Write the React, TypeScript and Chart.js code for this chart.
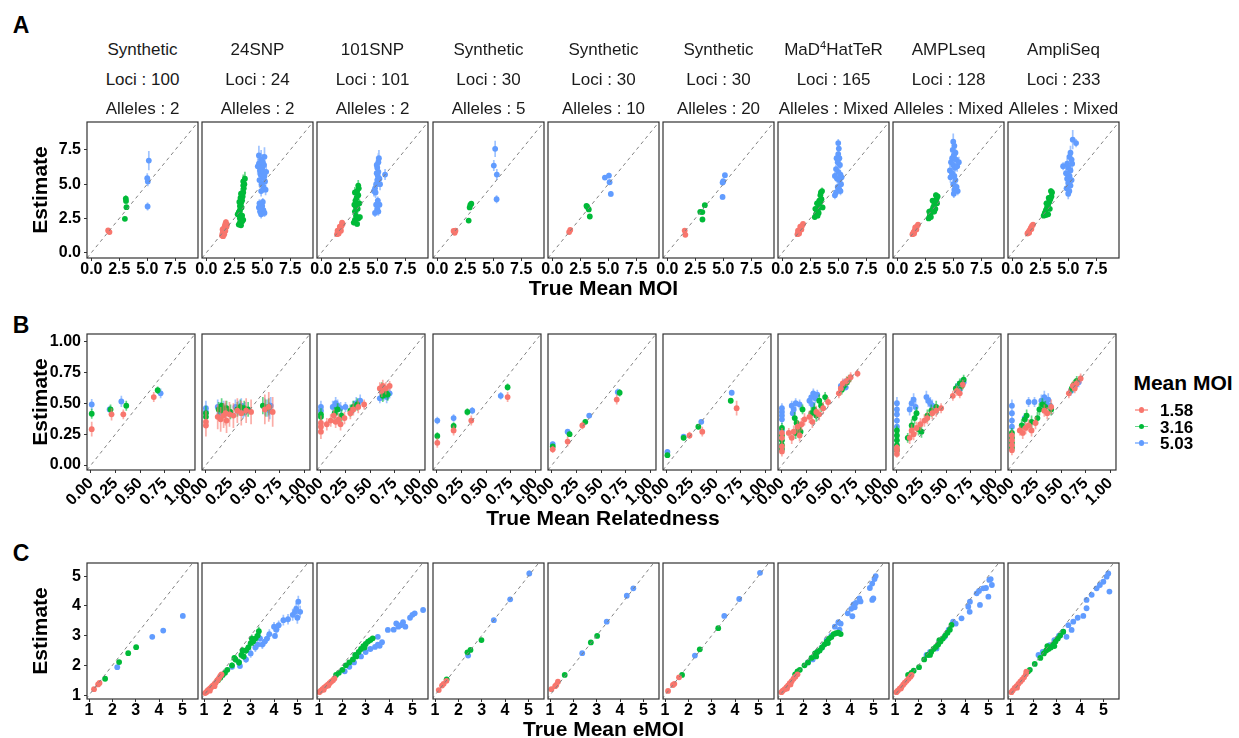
import React, { useEffect, useRef } from "react";
import { Chart, registerables } from "chart.js";
Chart.register(...registerables);

type P = [number, number, number, number]; // x, y, y half-error, x half-error

const FONT = "'Liberation Sans', Arial, Helvetica, sans-serif";
const COLORS = ["#F8766D", "#00BA38", "#619CFF"];
const ERR_COLORS = ["rgba(248,118,109,0.6)", "rgba(0,186,56,0.6)", "rgba(97,156,255,0.6)"];
const GROUP_LABELS = ["1.58", "3.16", "5.03"];

const panelNames = ["Synthetic", "24SNP", "101SNP", "Synthetic", "Synthetic", "Synthetic", "MaD^4^HatTeR", "AMPLseq", "AmpliSeq"];
const panelLoci = ["100", "24", "101", "30", "30", "30", "165", "128", "233"];
const panelAlleles = ["2", "2", "2", "5", "10", "20", "Mixed", "Mixed", "Mixed"];

const moiRange = [-0.39, 9.54];
const moiTicks = [0, 2.5, 5, 7.5];
const moiTickLabels = ["0.0", "2.5", "5.0", "7.5"];
const relRange = [-0.04, 1.06];
const relTicks = [0, 0.25, 0.5, 0.75, 1];
const relTickLabels = ["0.00", "0.25", "0.50", "0.75", "1.00"];
const emoiXRange = [0.914, 5.67];
const emoiYRange = [0.87, 5.44];
const emoiTicks = [1, 2, 3, 4, 5];
const emoiTickLabels = ["1", "2", "3", "4", "5"];

// ---------- Row A: True Mean MOI ----------
const moi1: P[][] = [
  [[1.5, 1.62, 0.12, 0.08], [1.62, 1.5, 0.1, 0.08]],
  [[3.08, 3.95, 0.25, 0.08], [3.1, 3.78, 0.2, 0.08], [3.14, 3.32, 0.15, 0.08], [3.0, 2.47, 0.12, 0.08]],
  [[5.14, 6.72, 0.7, 0.12], [5.0, 5.44, 0.35, 0.12], [5.05, 5.2, 0.35, 0.12], [5.03, 3.37, 0.3, 0.15]],
];
const moi2: P[][] = [
  [[1.4, 1.25, 0.15, 0.05], [1.45, 1.42, 0.15, 0.05], [1.5, 1.55, 0.18, 0.05], [1.55, 1.7, 0.18, 0.05], [1.6, 1.82, 0.2, 0.05], [1.65, 1.95, 0.2, 0.05], [1.7, 2.1, 0.22, 0.05], [1.75, 2.22, 0.22, 0.05], [1.8, 1.9, 0.2, 0.05], [1.5, 1.2, 0.15, 0.05], [1.6, 1.35, 0.15, 0.05], [1.7, 1.6, 0.18, 0.05], [1.85, 2.05, 0.2, 0.05], [1.55, 1.48, 0.15, 0.05], [1.45, 1.7, 0.18, 0.05]],
  [[2.9, 2.05, 0.2, 0.08], [3.0, 2.2, 0.25, 0.08], [3.1, 2.0, 0.2, 0.08], [3.2, 2.3, 0.25, 0.08], [3.0, 2.5, 0.25, 0.08], [3.3, 2.4, 0.25, 0.08], [2.8, 2.8, 0.3, 0.08], [2.9, 2.95, 0.3, 0.08], [3.0, 3.1, 0.3, 0.08], [3.0, 3.4, 0.35, 0.08], [3.1, 3.6, 0.35, 0.08], [3.15, 3.3, 0.3, 0.08], [3.2, 3.8, 0.35, 0.08], [3.05, 4.0, 0.35, 0.08], [3.25, 4.1, 0.4, 0.08], [3.3, 4.4, 0.4, 0.08], [3.35, 4.7, 0.45, 0.08], [3.3, 4.9, 0.45, 0.08], [3.4, 5.0, 0.5, 0.08], [3.3, 5.2, 0.5, 0.08], [3.45, 5.4, 0.5, 0.08], [3.1, 4.3, 0.4, 0.08], [2.95, 3.7, 0.35, 0.08], [3.2, 2.7, 0.3, 0.08]],
  [[4.7, 6.5, 0.6, 0.1], [4.8, 6.0, 0.6, 0.1], [4.85, 5.7, 0.5, 0.1], [4.9, 6.8, 0.7, 0.1], [5.0, 6.2, 0.6, 0.1], [5.05, 5.5, 0.5, 0.1], [5.1, 5.9, 0.6, 0.1], [5.15, 6.4, 0.6, 0.1], [5.2, 7.0, 0.7, 0.1], [5.25, 5.2, 0.5, 0.1], [5.3, 4.6, 0.4, 0.1], [5.1, 4.8, 0.4, 0.1], [4.95, 5.0, 0.5, 0.1], [4.75, 5.3, 0.5, 0.1], [4.6, 6.3, 0.6, 0.1], [5.2, 5.6, 0.5, 0.1], [5.05, 6.6, 0.6, 0.1], [4.9, 4.5, 0.4, 0.1], [5.35, 5.9, 0.6, 0.1], [4.7, 7.1, 0.7, 0.1], [4.7, 3.3, 0.3, 0.1], [4.8, 3.0, 0.3, 0.1], [4.9, 2.8, 0.3, 0.1], [5.0, 3.4, 0.3, 0.1], [5.1, 3.1, 0.3, 0.1], [5.2, 2.9, 0.3, 0.1], [4.75, 3.6, 0.3, 0.1], [5.05, 3.7, 0.3, 0.1], [4.85, 3.2, 0.3, 0.1]],
];
const moi3: P[][] = [
  [[1.4, 1.35, 0.12, 0.05], [1.5, 1.5, 0.12, 0.05], [1.6, 1.65, 0.14, 0.05], [1.7, 1.8, 0.15, 0.05], [1.8, 1.95, 0.15, 0.05], [1.9, 2.1, 0.15, 0.05], [1.55, 1.4, 0.12, 0.05], [1.75, 1.6, 0.14, 0.05], [1.65, 1.9, 0.15, 0.05], [1.85, 2.2, 0.15, 0.05], [1.45, 1.6, 0.12, 0.05]],
  [[2.9, 2.2, 0.2, 0.08], [3.0, 2.4, 0.2, 0.08], [3.2, 2.1, 0.2, 0.08], [3.3, 2.5, 0.2, 0.08], [3.45, 2.6, 0.2, 0.08], [3.1, 2.7, 0.25, 0.08], [3.0, 3.0, 0.3, 0.08], [3.1, 3.3, 0.3, 0.08], [3.2, 3.5, 0.3, 0.08], [3.05, 3.8, 0.35, 0.08], [3.25, 3.2, 0.3, 0.08], [3.15, 4.0, 0.35, 0.08], [3.3, 4.2, 0.35, 0.08], [3.2, 4.5, 0.4, 0.08], [3.35, 4.7, 0.4, 0.08], [3.3, 4.9, 0.4, 0.08], [3.0, 4.4, 0.4, 0.08], [3.4, 3.6, 0.3, 0.08], [2.95, 3.5, 0.3, 0.08]],
  [[4.7, 4.5, 0.4, 0.1], [4.8, 4.7, 0.4, 0.1], [4.9, 5.0, 0.45, 0.1], [5.0, 5.3, 0.5, 0.1], [5.05, 5.6, 0.5, 0.1], [5.1, 5.9, 0.55, 0.1], [5.0, 6.2, 0.6, 0.1], [5.1, 6.6, 0.65, 0.1], [5.15, 6.9, 0.6, 0.1], [4.95, 5.8, 0.5, 0.1], [5.2, 5.4, 0.5, 0.1], [4.85, 4.4, 0.4, 0.1], [5.25, 5.0, 0.45, 0.1], [5.7, 5.7, 0.4, 0.1], [4.9, 3.5, 0.3, 0.1], [5.0, 3.2, 0.3, 0.1], [5.1, 3.0, 0.3, 0.1], [4.8, 2.9, 0.3, 0.1], [5.2, 3.5, 0.3, 0.1], [5.05, 3.8, 0.3, 0.1], [4.95, 6.4, 0.6, 0.1]],
];
const moi4: P[][] = [
  [[1.45, 1.58, 0.1, 0.06], [1.55, 1.45, 0.1, 0.06], [1.62, 1.6, 0.1, 0.06]],
  [[2.95, 3.49, 0.15, 0.08], [3.04, 3.58, 0.15, 0.08], [2.89, 3.3, 0.12, 0.08], [2.8, 2.34, 0.1, 0.08]],
  [[5.17, 7.58, 0.6, 0.1], [5.05, 6.36, 0.4, 0.1], [5.32, 5.7, 0.4, 0.1], [5.3, 3.9, 0.3, 0.1]],
];
const moi5: P[][] = [
  [[1.5, 1.5, 0.1, 0.06], [1.6, 1.66, 0.1, 0.06]],
  [[3.05, 3.42, 0.12, 0.08], [3.11, 3.36, 0.12, 0.08], [3.26, 3.16, 0.12, 0.08], [3.35, 2.64, 0.1, 0.08]],
  [[4.7, 5.48, 0.15, 0.1], [5.06, 5.63, 0.2, 0.1], [5.12, 5.14, 0.2, 0.1], [5.23, 4.29, 0.2, 0.1]],
];
const moi6: P[][] = [
  [[1.55, 1.61, 0.1, 0.06], [1.61, 1.3, 0.1, 0.06]],
  [[2.94, 2.98, 0.1, 0.08], [3.13, 2.96, 0.1, 0.08], [3.35, 3.47, 0.1, 0.08], [3.14, 2.42, 0.1, 0.08]],
  [[5.15, 5.66, 0.15, 0.1], [4.94, 5.12, 0.15, 0.1], [5.0, 5.22, 0.15, 0.1], [4.94, 4.07, 0.2, 0.1]],
];
const moi7: P[][] = [
  [[1.35, 1.35, 0.1, 0.05], [1.45, 1.5, 0.1, 0.05], [1.55, 1.65, 0.1, 0.05], [1.65, 1.8, 0.1, 0.05], [1.75, 1.95, 0.1, 0.05], [1.85, 2.1, 0.1, 0.05], [1.5, 1.4, 0.1, 0.05], [1.7, 1.7, 0.1, 0.05], [1.6, 1.9, 0.1, 0.05], [1.4, 1.6, 0.1, 0.05]],
  [[2.9, 2.6, 0.15, 0.08], [3.0, 2.8, 0.15, 0.08], [3.1, 3.0, 0.2, 0.08], [3.2, 3.2, 0.2, 0.08], [3.3, 3.4, 0.2, 0.08], [3.4, 3.7, 0.2, 0.08], [3.5, 3.9, 0.2, 0.08], [3.4, 4.2, 0.25, 0.08], [3.55, 4.5, 0.25, 0.08], [3.1, 3.6, 0.2, 0.08], [3.25, 2.9, 0.15, 0.08], [3.6, 3.3, 0.2, 0.08], [2.95, 3.2, 0.2, 0.08], [3.45, 4.4, 0.25, 0.08], [3.3, 3.8, 0.2, 0.08], [3.15, 2.7, 0.15, 0.08]],
  [[5.0, 8.0, 0.3, 0.1], [5.05, 7.6, 0.3, 0.1], [5.0, 7.2, 0.3, 0.1], [5.1, 6.9, 0.3, 0.1], [4.95, 6.6, 0.3, 0.1], [5.15, 6.4, 0.3, 0.1], [4.8, 6.1, 0.3, 0.1], [5.0, 5.9, 0.3, 0.1], [5.2, 5.7, 0.3, 0.1], [4.7, 5.6, 0.3, 0.1], [4.9, 5.4, 0.3, 0.1], [5.1, 5.3, 0.3, 0.1], [5.25, 5.0, 0.3, 0.1], [4.95, 4.8, 0.3, 0.1], [5.1, 4.6, 0.3, 0.1], [4.8, 4.4, 0.3, 0.1], [4.7, 4.2, 0.3, 0.1], [5.2, 4.5, 0.3, 0.1], [5.3, 5.5, 0.3, 0.1], [4.85, 6.9, 0.3, 0.1]],
];
const moi8: P[][] = [
  [[1.35, 1.35, 0.1, 0.05], [1.45, 1.5, 0.1, 0.05], [1.55, 1.62, 0.1, 0.05], [1.65, 1.78, 0.1, 0.05], [1.75, 1.92, 0.1, 0.05], [1.85, 2.05, 0.1, 0.05], [1.5, 1.4, 0.1, 0.05], [1.7, 1.7, 0.1, 0.05], [1.6, 1.85, 0.1, 0.05]],
  [[2.8, 2.5, 0.15, 0.08], [2.9, 2.7, 0.15, 0.08], [3.0, 2.9, 0.15, 0.08], [3.1, 3.1, 0.2, 0.08], [3.2, 3.3, 0.2, 0.08], [3.3, 3.5, 0.2, 0.08], [3.4, 3.7, 0.2, 0.08], [3.5, 3.9, 0.2, 0.08], [3.6, 4.1, 0.2, 0.08], [3.45, 4.2, 0.2, 0.08], [3.0, 2.6, 0.15, 0.08], [3.3, 3.0, 0.2, 0.08], [3.55, 3.6, 0.2, 0.08], [2.85, 3.0, 0.2, 0.08], [3.15, 3.8, 0.2, 0.08], [3.4, 3.2, 0.2, 0.08]],
  [[5.0, 8.1, 0.6, 0.1], [5.1, 7.8, 0.4, 0.1], [4.95, 7.5, 0.4, 0.1], [5.2, 7.3, 0.4, 0.1], [5.05, 7.1, 0.4, 0.1], [4.9, 6.9, 0.4, 0.1], [5.25, 6.8, 0.4, 0.1], [4.8, 6.6, 0.4, 0.1], [5.0, 6.4, 0.4, 0.1], [5.15, 6.2, 0.4, 0.1], [4.7, 6.0, 0.4, 0.1], [5.35, 6.3, 0.4, 0.1], [4.9, 5.8, 0.4, 0.1], [5.1, 5.6, 0.4, 0.1], [4.75, 5.5, 0.4, 0.1], [5.2, 5.3, 0.3, 0.1], [5.0, 5.0, 0.3, 0.1], [5.3, 4.8, 0.3, 0.1], [5.1, 4.6, 0.3, 0.1], [5.4, 4.5, 0.3, 0.1], [5.05, 4.3, 0.3, 0.1], [5.5, 6.6, 0.4, 0.1]],
];
const moi9: P[][] = [
  [[1.35, 1.4, 0.1, 0.05], [1.45, 1.52, 0.1, 0.05], [1.55, 1.65, 0.1, 0.05], [1.65, 1.8, 0.1, 0.05], [1.75, 1.95, 0.1, 0.05], [1.85, 2.05, 0.1, 0.05], [1.5, 1.45, 0.1, 0.05], [1.7, 1.72, 0.1, 0.05]],
  [[2.8, 2.7, 0.15, 0.08], [2.9, 2.9, 0.15, 0.08], [3.0, 3.1, 0.2, 0.08], [3.1, 3.3, 0.2, 0.08], [3.2, 3.5, 0.2, 0.08], [3.3, 3.7, 0.2, 0.08], [3.4, 3.9, 0.2, 0.08], [3.5, 4.1, 0.2, 0.08], [3.55, 4.4, 0.2, 0.08], [3.2, 2.8, 0.15, 0.08], [3.35, 3.2, 0.2, 0.08], [3.05, 3.6, 0.2, 0.08], [3.45, 4.5, 0.2, 0.08], [3.0, 2.75, 0.15, 0.08], [3.25, 4.0, 0.2, 0.08]],
  [[5.4, 8.25, 0.7, 0.1], [5.7, 8.0, 0.3, 0.15], [5.2, 7.3, 0.5, 0.1], [5.1, 7.0, 0.4, 0.1], [5.3, 6.8, 0.4, 0.1], [4.54, 6.31, 0.3, 0.1], [4.9, 6.5, 0.4, 0.1], [5.0, 6.2, 0.4, 0.1], [5.2, 6.0, 0.4, 0.1], [4.8, 5.8, 0.4, 0.1], [5.1, 5.6, 0.4, 0.1], [4.9, 5.4, 0.4, 0.1], [5.3, 5.3, 0.4, 0.1], [5.0, 5.1, 0.4, 0.1], [5.2, 4.9, 0.4, 0.1], [4.85, 4.7, 0.4, 0.1], [5.1, 4.5, 0.4, 0.1], [5.35, 6.5, 0.4, 0.1], [5.0, 4.3, 0.4, 0.1]],
];

// ---------- Row B: True Mean Relatedness ----------
const rel1: P[][] = [
  [[0.008, 0.29, 0.06, 0.01], [0.21, 0.41, 0.05, 0.015], [0.33, 0.41, 0.04, 0.015], [0.64, 0.55, 0.04, 0.015]],
  [[0.008, 0.415, 0.04, 0.01], [0.2, 0.45, 0.04, 0.015], [0.36, 0.48, 0.04, 0.015], [0.68, 0.605, 0.03, 0.015]],
  [[0.008, 0.49, 0.045, 0.01], [0.19, 0.45, 0.03, 0.015], [0.31, 0.515, 0.045, 0.015], [0.71, 0.58, 0.04, 0.015]],
];
const rel2: P[][] = [
  [[0.0, 0.35, 0.09, 0.01], [0.0, 0.32, 0.09, 0.01], [0.12, 0.39, 0.1, 0.02], [0.15, 0.37, 0.1, 0.02], [0.18, 0.4, 0.1, 0.02], [0.21, 0.36, 0.1, 0.02], [0.24, 0.41, 0.1, 0.02], [0.28, 0.4, 0.1, 0.02], [0.32, 0.44, 0.1, 0.02], [0.36, 0.42, 0.1, 0.02], [0.41, 0.44, 0.1, 0.02], [0.46, 0.43, 0.1, 0.02], [0.6, 0.45, 0.12, 0.02], [0.64, 0.47, 0.12, 0.02], [0.68, 0.43, 0.12, 0.02], [0.2, 0.42, 0.1, 0.02]],
  [[0.0, 0.42, 0.06, 0.01], [0.0, 0.39, 0.06, 0.01], [0.13, 0.45, 0.06, 0.02], [0.17, 0.44, 0.06, 0.02], [0.21, 0.46, 0.06, 0.02], [0.25, 0.43, 0.06, 0.02], [0.32, 0.45, 0.06, 0.02], [0.35, 0.47, 0.06, 0.02], [0.39, 0.46, 0.06, 0.02], [0.43, 0.45, 0.06, 0.02], [0.58, 0.48, 0.07, 0.02], [0.61, 0.46, 0.07, 0.02], [0.64, 0.47, 0.07, 0.02], [0.16, 0.48, 0.06, 0.02]],
  [[0.0, 0.46, 0.06, 0.01], [0.0, 0.43, 0.06, 0.01], [0.12, 0.47, 0.06, 0.02], [0.15, 0.45, 0.06, 0.02], [0.18, 0.46, 0.06, 0.02], [0.2, 0.44, 0.06, 0.02], [0.3, 0.47, 0.06, 0.02], [0.33, 0.46, 0.06, 0.02], [0.36, 0.48, 0.06, 0.02], [0.4, 0.45, 0.06, 0.02], [0.6, 0.47, 0.07, 0.02], [0.63, 0.46, 0.07, 0.02], [0.66, 0.48, 0.07, 0.02], [0.14, 0.42, 0.06, 0.02], [0.38, 0.44, 0.06, 0.02], [0.65, 0.44, 0.07, 0.02]],
];
const rel3: P[][] = [
  [[0.0, 0.31, 0.06, 0.01], [0.0, 0.27, 0.06, 0.01], [0.0, 0.34, 0.06, 0.01], [0.06, 0.33, 0.05, 0.02], [0.1, 0.36, 0.05, 0.02], [0.13, 0.4, 0.05, 0.02], [0.15, 0.35, 0.05, 0.02], [0.18, 0.37, 0.05, 0.02], [0.2, 0.33, 0.05, 0.02], [0.24, 0.38, 0.05, 0.02], [0.3, 0.42, 0.05, 0.02], [0.33, 0.45, 0.05, 0.02], [0.38, 0.47, 0.05, 0.02], [0.44, 0.49, 0.04, 0.02], [0.6, 0.62, 0.05, 0.02], [0.63, 0.64, 0.05, 0.02], [0.66, 0.62, 0.05, 0.02], [0.7, 0.64, 0.04, 0.02], [0.62, 0.6, 0.05, 0.02]],
  [[0.0, 0.41, 0.05, 0.01], [0.0, 0.39, 0.05, 0.01], [0.14, 0.42, 0.05, 0.02], [0.17, 0.45, 0.05, 0.02], [0.21, 0.4, 0.05, 0.02], [0.3, 0.44, 0.05, 0.02], [0.33, 0.47, 0.05, 0.02], [0.37, 0.49, 0.05, 0.02], [0.63, 0.56, 0.05, 0.02], [0.66, 0.59, 0.05, 0.02], [0.68, 0.57, 0.05, 0.02], [0.62, 0.62, 0.05, 0.02]],
  [[0.0, 0.47, 0.05, 0.01], [0.0, 0.44, 0.05, 0.01], [0.12, 0.47, 0.05, 0.02], [0.15, 0.5, 0.05, 0.02], [0.17, 0.48, 0.05, 0.02], [0.2, 0.46, 0.05, 0.02], [0.25, 0.47, 0.04, 0.02], [0.33, 0.47, 0.05, 0.02], [0.36, 0.5, 0.05, 0.02], [0.4, 0.52, 0.05, 0.02], [0.6, 0.54, 0.04, 0.02], [0.64, 0.57, 0.05, 0.02], [0.67, 0.55, 0.05, 0.02], [0.7, 0.58, 0.04, 0.02], [0.62, 0.6, 0.04, 0.02]],
];
const rel4: P[][] = [
  [[0.004, 0.18, 0.04, 0.01], [0.17, 0.28, 0.04, 0.015], [0.35, 0.36, 0.04, 0.015], [0.72, 0.55, 0.04, 0.015]],
  [[0.004, 0.235, 0.03, 0.01], [0.17, 0.316, 0.03, 0.015], [0.31, 0.43, 0.03, 0.015], [0.72, 0.63, 0.03, 0.015]],
  [[0.004, 0.36, 0.03, 0.01], [0.17, 0.38, 0.03, 0.015], [0.36, 0.44, 0.03, 0.015], [0.65, 0.56, 0.03, 0.015]],
];
const rel5: P[][] = [
  [[0.008, 0.127, 0.03, 0.01], [0.16, 0.19, 0.04, 0.015], [0.31, 0.32, 0.03, 0.015], [0.66, 0.53, 0.04, 0.015]],
  [[0.008, 0.15, 0.02, 0.01], [0.18, 0.25, 0.02, 0.015], [0.34, 0.35, 0.02, 0.015], [0.69, 0.585, 0.03, 0.015]],
  [[0.008, 0.17, 0.02, 0.01], [0.16, 0.27, 0.02, 0.015], [0.38, 0.4, 0.02, 0.015], [0.67, 0.59, 0.03, 0.015]],
];
const rel6: P[][] = [
  [[0.23, 0.24, 0.03, 0.015], [0.36, 0.27, 0.04, 0.015], [0.71, 0.46, 0.06, 0.015]],
  [[0.005, 0.08, 0.02, 0.01], [0.17, 0.22, 0.02, 0.015], [0.32, 0.31, 0.02, 0.015], [0.65, 0.52, 0.02, 0.015]],
  [[0.005, 0.106, 0.02, 0.01], [0.17, 0.23, 0.02, 0.015], [0.35, 0.35, 0.02, 0.015], [0.66, 0.585, 0.02, 0.015]],
];
const rel7: P[][] = [
  [[0.0, 0.26, 0.04, 0.01], [0.0, 0.22, 0.04, 0.01], [0.0, 0.15, 0.04, 0.01], [0.0, 0.11, 0.04, 0.01], [0.07, 0.26, 0.04, 0.02], [0.1, 0.22, 0.05, 0.02], [0.12, 0.27, 0.05, 0.02], [0.16, 0.31, 0.05, 0.02], [0.2, 0.33, 0.05, 0.02], [0.23, 0.37, 0.05, 0.02], [0.18, 0.24, 0.05, 0.02], [0.28, 0.39, 0.05, 0.02], [0.31, 0.35, 0.05, 0.02], [0.35, 0.43, 0.05, 0.02], [0.38, 0.41, 0.05, 0.02], [0.47, 0.51, 0.04, 0.02], [0.42, 0.46, 0.05, 0.02], [0.58, 0.58, 0.04, 0.02], [0.62, 0.66, 0.04, 0.02], [0.66, 0.68, 0.04, 0.02], [0.7, 0.71, 0.04, 0.02], [0.77, 0.74, 0.03, 0.02], [0.6, 0.62, 0.04, 0.02]],
  [[0.0, 0.3, 0.04, 0.01], [0.0, 0.24, 0.04, 0.01], [0.0, 0.2, 0.04, 0.01], [0.0, 0.16, 0.04, 0.01], [0.0, 0.13, 0.04, 0.01], [0.13, 0.38, 0.05, 0.02], [0.15, 0.34, 0.05, 0.02], [0.17, 0.3, 0.05, 0.02], [0.19, 0.27, 0.05, 0.02], [0.21, 0.45, 0.04, 0.02], [0.14, 0.26, 0.05, 0.02], [0.3, 0.42, 0.05, 0.02], [0.33, 0.45, 0.05, 0.02], [0.35, 0.4, 0.05, 0.02], [0.38, 0.52, 0.05, 0.02], [0.44, 0.55, 0.04, 0.02], [0.4, 0.48, 0.05, 0.02], [0.63, 0.64, 0.04, 0.02], [0.66, 0.67, 0.04, 0.02], [0.68, 0.69, 0.04, 0.02], [0.61, 0.61, 0.04, 0.02]],
  [[0.0, 0.46, 0.04, 0.01], [0.0, 0.43, 0.04, 0.01], [0.0, 0.4, 0.04, 0.01], [0.0, 0.37, 0.04, 0.01], [0.0, 0.28, 0.04, 0.01], [0.1, 0.48, 0.04, 0.02], [0.12, 0.45, 0.04, 0.02], [0.14, 0.5, 0.04, 0.02], [0.18, 0.49, 0.04, 0.02], [0.11, 0.42, 0.04, 0.02], [0.28, 0.52, 0.04, 0.02], [0.3, 0.55, 0.04, 0.02], [0.32, 0.58, 0.04, 0.02], [0.34, 0.54, 0.04, 0.02], [0.36, 0.57, 0.04, 0.02], [0.31, 0.49, 0.04, 0.02], [0.6, 0.64, 0.03, 0.02], [0.62, 0.65, 0.03, 0.02], [0.65, 0.63, 0.03, 0.02], [0.64, 0.67, 0.03, 0.02]],
];
const rel8: P[][] = [
  [[0.0, 0.09, 0.03, 0.01], [0.0, 0.12, 0.03, 0.01], [0.0, 0.14, 0.03, 0.01], [0.13, 0.22, 0.05, 0.02], [0.15, 0.28, 0.05, 0.02], [0.17, 0.25, 0.05, 0.02], [0.2, 0.3, 0.05, 0.02], [0.24, 0.33, 0.05, 0.02], [0.28, 0.36, 0.05, 0.02], [0.31, 0.38, 0.05, 0.02], [0.36, 0.42, 0.05, 0.02], [0.4, 0.44, 0.05, 0.02], [0.45, 0.46, 0.04, 0.02], [0.57, 0.56, 0.04, 0.02], [0.61, 0.6, 0.04, 0.02], [0.64, 0.58, 0.04, 0.02], [0.67, 0.65, 0.04, 0.02]],
  [[0.0, 0.28, 0.04, 0.01], [0.0, 0.24, 0.04, 0.01], [0.0, 0.2, 0.04, 0.01], [0.0, 0.16, 0.04, 0.01], [0.0, 0.12, 0.04, 0.01], [0.11, 0.22, 0.04, 0.02], [0.15, 0.32, 0.05, 0.02], [0.18, 0.38, 0.05, 0.02], [0.2, 0.42, 0.05, 0.02], [0.22, 0.29, 0.05, 0.02], [0.25, 0.27, 0.05, 0.02], [0.31, 0.4, 0.05, 0.02], [0.35, 0.44, 0.05, 0.02], [0.4, 0.47, 0.05, 0.02], [0.6, 0.62, 0.04, 0.02], [0.64, 0.66, 0.04, 0.02], [0.68, 0.69, 0.04, 0.02], [0.66, 0.64, 0.04, 0.02]],
  [[0.0, 0.5, 0.05, 0.01], [0.0, 0.45, 0.04, 0.01], [0.0, 0.41, 0.04, 0.01], [0.0, 0.36, 0.04, 0.01], [0.0, 0.31, 0.04, 0.01], [0.13, 0.45, 0.05, 0.02], [0.15, 0.5, 0.05, 0.02], [0.17, 0.53, 0.05, 0.02], [0.19, 0.47, 0.05, 0.02], [0.3, 0.55, 0.05, 0.02], [0.32, 0.52, 0.05, 0.02], [0.34, 0.5, 0.05, 0.02], [0.36, 0.48, 0.05, 0.02], [0.62, 0.64, 0.04, 0.02], [0.65, 0.66, 0.04, 0.02], [0.68, 0.67, 0.04, 0.02], [0.64, 0.61, 0.04, 0.02]],
];
const rel9: P[][] = [
  [[0.0, 0.24, 0.04, 0.01], [0.0, 0.2, 0.04, 0.01], [0.0, 0.16, 0.04, 0.01], [0.0, 0.12, 0.04, 0.01], [0.08, 0.28, 0.04, 0.02], [0.11, 0.26, 0.05, 0.02], [0.14, 0.3, 0.05, 0.02], [0.17, 0.32, 0.05, 0.02], [0.2, 0.28, 0.05, 0.02], [0.24, 0.34, 0.05, 0.02], [0.33, 0.44, 0.05, 0.02], [0.36, 0.42, 0.05, 0.02], [0.4, 0.47, 0.06, 0.02], [0.58, 0.58, 0.04, 0.02], [0.62, 0.64, 0.04, 0.02], [0.66, 0.66, 0.04, 0.02], [0.7, 0.7, 0.04, 0.02], [0.64, 0.62, 0.04, 0.02]],
  [[0.0, 0.26, 0.04, 0.01], [0.0, 0.22, 0.04, 0.01], [0.0, 0.18, 0.04, 0.01], [0.0, 0.14, 0.04, 0.01], [0.1, 0.32, 0.05, 0.02], [0.13, 0.37, 0.05, 0.02], [0.15, 0.4, 0.05, 0.02], [0.2, 0.35, 0.05, 0.02], [0.26, 0.38, 0.05, 0.02], [0.28, 0.45, 0.05, 0.02], [0.31, 0.49, 0.05, 0.02], [0.34, 0.47, 0.05, 0.02], [0.4, 0.45, 0.05, 0.02], [0.63, 0.65, 0.04, 0.02], [0.66, 0.68, 0.04, 0.02], [0.61, 0.62, 0.04, 0.02]],
  [[0.0, 0.48, 0.05, 0.01], [0.0, 0.42, 0.04, 0.01], [0.0, 0.36, 0.04, 0.01], [0.0, 0.31, 0.04, 0.01], [0.17, 0.51, 0.04, 0.02], [0.23, 0.51, 0.04, 0.02], [0.13, 0.38, 0.04, 0.02], [0.3, 0.52, 0.05, 0.02], [0.33, 0.55, 0.05, 0.02], [0.35, 0.5, 0.05, 0.02], [0.37, 0.53, 0.05, 0.02], [0.39, 0.48, 0.05, 0.02], [0.62, 0.62, 0.04, 0.02], [0.65, 0.65, 0.04, 0.02], [0.68, 0.67, 0.04, 0.02], [0.6, 0.6, 0.04, 0.02]],
];

// ---------- Row C: True Mean eMOI ----------
const emoi1: P[][] = [
  [[1.215, 1.2, 0.03, 0], [1.39, 1.36, 0.03, 0], [1.45, 1.41, 0.03, 0]],
  [[1.69, 1.55, 0.03, 0], [2.29, 2.11, 0.04, 0], [2.68, 2.41, 0.04, 0], [3.02, 2.61, 0.04, 0]],
  [[2.21, 1.94, 0.04, 0], [3.71, 2.96, 0.05, 0], [4.18, 3.17, 0.06, 0], [5.02, 3.66, 0.08, 0]],
];
const emoi2: P[][] = [
  [[1.05, 1.07, 0.05, 0], [1.1, 1.1, 0.05, 0], [1.15, 1.15, 0.05, 0], [1.2, 1.18, 0.05, 0], [1.25, 1.22, 0.05, 0], [1.3, 1.25, 0.05, 0], [1.35, 1.3, 0.05, 0], [1.4, 1.33, 0.05, 0], [1.45, 1.38, 0.05, 0], [1.5, 1.42, 0.05, 0], [1.55, 1.48, 0.05, 0], [1.6, 1.52, 0.05, 0], [1.65, 1.58, 0.06, 0], [1.7, 1.65, 0.06, 0], [1.75, 1.7, 0.06, 0], [1.25, 1.15, 0.05, 0], [1.45, 1.3, 0.05, 0]],
  [[1.6, 1.5, 0.05, 0], [1.7, 1.58, 0.05, 0], [1.8, 1.68, 0.06, 0], [2.0, 1.85, 0.08, 0], [2.2, 2.0, 0.1, 0], [2.35, 2.2, 0.12, 0], [2.5, 2.1, 0.12, 0], [2.6, 2.35, 0.12, 0], [2.7, 2.3, 0.12, 0], [2.8, 2.5, 0.12, 0], [2.9, 2.6, 0.14, 0], [3.0, 2.75, 0.14, 0], [3.1, 2.8, 0.15, 0], [3.2, 2.9, 0.15, 0], [3.3, 3.0, 0.15, 0], [3.35, 3.15, 0.15, 0], [2.3, 2.25, 0.1, 0], [2.65, 2.5, 0.12, 0], [3.05, 2.9, 0.14, 0], [1.9, 1.75, 0.06, 0]],
  [[2.2, 1.95, 0.08, 0], [2.54, 1.98, 0.1, 0], [2.5, 2.1, 0.1, 0], [2.8, 2.2, 0.12, 0], [3.0, 2.4, 0.14, 0], [3.2, 2.6, 0.15, 0], [3.4, 2.91, 0.15, 0], [3.5, 2.7, 0.15, 0], [3.6, 2.8, 0.15, 0], [3.8, 3.05, 0.16, 0], [4.04, 2.99, 0.1, 0], [4.0, 3.3, 0.16, 0], [4.1, 3.2, 0.16, 0], [4.2, 3.35, 0.16, 0], [4.4, 3.52, 0.18, 0], [4.6, 3.55, 0.18, 0], [4.8, 3.7, 0.2, 0], [4.9, 3.8, 0.2, 0], [5.0, 3.6, 0.2, 0], [5.04, 4.14, 0.2, 0], [5.12, 3.8, 0.2, 0], [4.95, 3.9, 0.2, 0], [3.7, 2.9, 0.15, 0], [3.3, 2.7, 0.15, 0]],
];
const emoi3: P[][] = [
  [[1.01, 1.1, 0.02, 0], [1.08, 1.15, 0.02, 0], [1.15, 1.2, 0.02, 0], [1.22, 1.25, 0.02, 0], [1.3, 1.3, 0.02, 0], [1.38, 1.35, 0.02, 0], [1.45, 1.4, 0.02, 0], [1.52, 1.45, 0.02, 0], [1.6, 1.5, 0.02, 0], [1.66, 1.56, 0.02, 0], [1.2, 1.18, 0.02, 0], [1.4, 1.32, 0.02, 0]],
  [[1.73, 1.68, 0.03, 0], [1.85, 1.75, 0.03, 0], [2.0, 1.85, 0.03, 0], [2.15, 2.0, 0.03, 0], [2.3, 2.1, 0.03, 0], [2.45, 2.2, 0.04, 0], [2.6, 2.3, 0.04, 0], [2.7, 2.45, 0.04, 0], [2.8, 2.55, 0.04, 0], [2.9, 2.65, 0.04, 0], [3.0, 2.72, 0.04, 0], [3.1, 2.8, 0.04, 0], [3.2, 2.85, 0.04, 0], [3.3, 2.91, 0.04, 0], [2.55, 2.35, 0.04, 0], [2.95, 2.6, 0.04, 0]],
  [[2.1, 1.8, 0.03, 0], [2.3, 1.95, 0.03, 0], [2.5, 2.1, 0.04, 0], [2.8, 2.3, 0.04, 0], [3.0, 2.45, 0.05, 0], [3.2, 2.55, 0.05, 0], [3.4, 2.62, 0.05, 0], [3.52, 2.7, 0.05, 0], [3.6, 2.66, 0.05, 0], [3.7, 2.78, 0.05, 0], [3.52, 2.96, 0.05, 0], [3.95, 3.19, 0.06, 0], [4.2, 3.2, 0.06, 0], [4.31, 3.41, 0.06, 0], [4.4, 3.3, 0.06, 0], [4.5, 3.35, 0.06, 0], [4.6, 3.45, 0.06, 0], [4.7, 3.3, 0.06, 0], [4.9, 3.6, 0.06, 0], [5.0, 3.7, 0.06, 0], [5.1, 3.75, 0.06, 0], [5.46, 3.86, 0.06, 0]],
];
const emoi4: P[][] = [
  [[1.16, 1.17, 0.02, 0], [1.3, 1.32, 0.02, 0], [1.37, 1.38, 0.02, 0], [1.49, 1.48, 0.02, 0]],
  [[1.5, 1.53, 0.02, 0], [2.39, 2.44, 0.03, 0], [2.52, 2.52, 0.03, 0], [2.99, 2.85, 0.03, 0]],
  [[2.42, 2.33, 0.03, 0], [3.52, 3.52, 0.05, 0], [4.22, 4.22, 0.07, 0], [5.04, 5.09, 0.1, 0]],
];
const emoi5: P[][] = [
  [[1.06, 1.2, 0.02, 0], [1.22, 1.3, 0.02, 0], [1.27, 1.34, 0.02, 0], [1.34, 1.45, 0.02, 0]],
  [[1.63, 1.68, 0.02, 0], [2.75, 2.77, 0.03, 0], [3.02, 2.99, 0.03, 0]],
  [[2.38, 2.41, 0.03, 0], [3.43, 3.47, 0.04, 0], [4.29, 4.34, 0.05, 0], [4.57, 4.59, 0.05, 0]],
];
const emoi6: P[][] = [
  [[1.13, 1.14, 0.02, 0], [1.34, 1.34, 0.02, 0], [1.4, 1.38, 0.02, 0], [1.6, 1.6, 0.02, 0]],
  [[1.73, 1.68, 0.02, 0], [2.49, 2.54, 0.03, 0], [3.28, 3.25, 0.03, 0]],
  [[2.28, 2.33, 0.03, 0], [3.54, 3.66, 0.04, 0], [4.18, 4.23, 0.05, 0], [5.07, 5.11, 0.06, 0]],
];
const emoi7: P[][] = [
  [[1.06, 1.1, 0.02, 0], [1.12, 1.15, 0.02, 0], [1.2, 1.2, 0.02, 0], [1.28, 1.27, 0.02, 0], [1.35, 1.33, 0.02, 0], [1.42, 1.4, 0.02, 0], [1.5, 1.47, 0.02, 0], [1.58, 1.55, 0.02, 0], [1.66, 1.62, 0.02, 0], [1.75, 1.7, 0.02, 0], [1.3, 1.22, 0.02, 0], [1.45, 1.36, 0.02, 0]],
  [[1.65, 1.7, 0.03, 0], [1.75, 1.8, 0.03, 0], [1.85, 1.85, 0.03, 0], [2.05, 2.0, 0.03, 0], [2.2, 2.1, 0.03, 0], [2.35, 2.25, 0.03, 0], [2.5, 2.4, 0.03, 0], [2.6, 2.45, 0.03, 0], [2.7, 2.5, 0.03, 0], [2.8, 2.6, 0.03, 0], [2.9, 2.7, 0.03, 0], [3.0, 2.8, 0.03, 0], [3.1, 2.9, 0.03, 0], [3.2, 2.95, 0.03, 0], [3.3, 3.05, 0.03, 0], [3.4, 3.08, 0.03, 0], [3.5, 3.1, 0.03, 0], [3.6, 3.05, 0.03, 0], [2.55, 2.3, 0.03, 0], [3.05, 2.75, 0.03, 0]],
  [[2.2, 2.1, 0.03, 0], [2.4, 2.2, 0.03, 0], [2.6, 2.45, 0.03, 0], [2.8, 2.6, 0.03, 0], [3.0, 2.85, 0.03, 0], [3.2, 3.0, 0.04, 0], [3.35, 3.3, 0.04, 0], [3.5, 3.45, 0.04, 0], [3.6, 3.4, 0.04, 0], [3.55, 3.2, 0.04, 0], [3.9, 3.75, 0.05, 0], [4.05, 3.9, 0.05, 0], [4.15, 4.05, 0.05, 0], [4.1, 3.65, 0.05, 0], [4.25, 4.1, 0.05, 0], [4.4, 4.25, 0.05, 0], [4.45, 4.15, 0.05, 0], [4.85, 4.6, 0.06, 0], [4.95, 4.75, 0.06, 0], [5.05, 4.9, 0.06, 0], [5.1, 5.0, 0.06, 0], [4.95, 4.2, 0.06, 0], [5.0, 4.25, 0.06, 0], [4.2, 3.95, 0.05, 0]],
];
const emoi8: P[][] = [
  [[1.06, 1.1, 0.02, 0], [1.12, 1.15, 0.02, 0], [1.2, 1.22, 0.02, 0], [1.28, 1.28, 0.02, 0], [1.35, 1.35, 0.02, 0], [1.42, 1.42, 0.02, 0], [1.5, 1.48, 0.02, 0], [1.58, 1.55, 0.02, 0], [1.66, 1.62, 0.02, 0], [1.71, 1.68, 0.02, 0], [1.25, 1.22, 0.02, 0]],
  [[1.56, 1.68, 0.03, 0], [1.7, 1.75, 0.03, 0], [1.8, 1.82, 0.03, 0], [2.03, 1.94, 0.03, 0], [2.25, 2.2, 0.03, 0], [2.4, 2.35, 0.03, 0], [2.55, 2.45, 0.03, 0], [2.65, 2.55, 0.03, 0], [2.75, 2.62, 0.03, 0], [2.85, 2.7, 0.03, 0], [2.95, 2.8, 0.03, 0], [3.05, 2.9, 0.03, 0], [3.15, 3.0, 0.03, 0], [3.25, 3.1, 0.03, 0], [3.35, 3.2, 0.03, 0], [3.42, 3.36, 0.03, 0], [2.5, 2.35, 0.03, 0], [2.9, 2.85, 0.03, 0]],
  [[2.35, 2.35, 0.03, 0], [2.5, 2.45, 0.03, 0], [2.78, 2.57, 0.03, 0], [2.9, 2.8, 0.03, 0], [3.13, 2.96, 0.03, 0], [3.3, 3.2, 0.03, 0], [3.49, 3.47, 0.04, 0], [3.6, 3.4, 0.04, 0], [3.85, 3.58, 0.04, 0], [4.14, 3.97, 0.05, 0], [4.21, 4.14, 0.05, 0], [4.2, 3.8, 0.05, 0], [4.5, 4.42, 0.05, 0], [4.64, 4.03, 0.05, 0], [4.6, 4.5, 0.05, 0], [4.78, 4.59, 0.05, 0], [4.9, 4.6, 0.05, 0], [5.0, 4.31, 0.05, 0], [5.04, 4.87, 0.06, 0], [5.15, 4.7, 0.06, 0], [5.1, 4.9, 0.06, 0]],
];
const emoi9: P[][] = [
  [[1.06, 1.1, 0.02, 0], [1.12, 1.16, 0.02, 0], [1.2, 1.24, 0.02, 0], [1.28, 1.3, 0.02, 0], [1.36, 1.38, 0.02, 0], [1.44, 1.45, 0.02, 0], [1.52, 1.52, 0.02, 0], [1.6, 1.6, 0.02, 0], [1.68, 1.7, 0.02, 0], [1.7, 1.79, 0.02, 0], [1.3, 1.25, 0.02, 0]],
  [[1.77, 1.79, 0.03, 0], [1.85, 1.85, 0.03, 0], [2.06, 2.05, 0.03, 0], [2.3, 2.25, 0.03, 0], [2.45, 2.4, 0.03, 0], [2.55, 2.5, 0.03, 0], [2.65, 2.55, 0.03, 0], [2.75, 2.6, 0.03, 0], [2.85, 2.7, 0.03, 0], [2.95, 2.8, 0.03, 0], [3.05, 2.9, 0.03, 0], [3.15, 3.0, 0.03, 0], [3.28, 3.13, 0.03, 0], [2.6, 2.65, 0.03, 0], [2.9, 2.65, 0.03, 0]],
  [[2.22, 2.35, 0.03, 0], [2.4, 2.45, 0.03, 0], [2.7, 2.68, 0.03, 0], [2.9, 2.85, 0.03, 0], [3.1, 3.0, 0.03, 0], [3.28, 3.13, 0.03, 0], [3.42, 2.96, 0.03, 0], [3.5, 3.35, 0.04, 0], [3.64, 3.19, 0.04, 0], [3.71, 3.47, 0.04, 0], [3.9, 3.6, 0.04, 0], [4.14, 3.66, 0.05, 0], [4.28, 3.92, 0.05, 0], [4.28, 4.2, 0.05, 0], [4.5, 4.37, 0.05, 0], [4.71, 4.59, 0.05, 0], [4.85, 4.7, 0.05, 0], [5.0, 4.81, 0.05, 0], [5.14, 4.98, 0.05, 0], [5.21, 5.09, 0.05, 0], [5.26, 4.48, 0.06, 0]],
];

// ---------- layout ----------
const PANEL_LEFTS = [87, 202, 317, 433, 548, 663, 778, 893, 1008];
const PANEL_W = 111;
const PANEL_H = 136;

type RowDef = {
  panels: P[][][];
  xRange: number[];
  yRange: number[];
  ticks: number[];
  tickLabels: string[];
  top: number;
  xAxisH: number;
  rot: number;
  tickPad: number;
  xErr: boolean;
};

const ROWS: RowDef[] = [
  { panels: [moi1, moi2, moi3, moi4, moi5, moi6, moi7, moi8, moi9], xRange: moiRange, yRange: moiRange, ticks: moiTicks, tickLabels: moiTickLabels, top: 122, xAxisH: 26, rot: 0, tickPad: -1, xErr: true },
  { panels: [rel1, rel2, rel3, rel4, rel5, rel6, rel7, rel8, rel9], xRange: relRange, yRange: relRange, ticks: relTicks, tickLabels: relTickLabels, top: 334, xAxisH: 42, rot: 45, tickPad: 1, xErr: true },
  { panels: [emoi1, emoi2, emoi3, emoi4, emoi5, emoi6, emoi7, emoi8, emoi9], xRange: emoiXRange, yRange: emoiYRange, ticks: emoiTicks, tickLabels: emoiTickLabels, top: 563, xAxisH: 24, rot: 0, tickPad: -1, xErr: false },
];

const borderPlugin = {
  id: "panelBorder",
  afterDraw(chart: any) {
    const { ctx, chartArea } = chart;
    const { left, top, right, bottom } = chartArea;
    ctx.save();
    ctx.strokeStyle = "#333333";
    ctx.lineWidth = 1.2;
    ctx.strokeRect(left, top, right - left, bottom - top);
    ctx.restore();
  },
};

function Panel({ row, col }: { row: RowDef; col: number }) {
  const ref = useRef<HTMLCanvasElement | null>(null);
  const first = col === 0;
  const yW = first ? 50 : 0;
  const padL = first ? 4 : 34;
  const padR = 6;
  const padT = 16;
  const width = padL + yW + PANEL_W + padR;
  const height = padT + PANEL_H + row.xAxisH;
  const left = PANEL_LEFTS[col] - padL - yW;
  const top = row.top - padT;

  useEffect(() => {
    if (!ref.current) return;
    const groups = row.panels[col];
    const lo = Math.min(row.xRange[0], row.yRange[0]);
    const hi = Math.max(row.xRange[1], row.yRange[1]);
    const datasets: any[] = [
      {
        type: "line",
        data: [{ x: lo, y: lo }, { x: hi, y: hi }],
        borderColor: "#808080",
        borderWidth: 1,
        borderDash: [3.5, 3.5],
        pointRadius: 0,
        fill: false,
        tension: 0,
        order: 0,
      },
    ];
    groups.forEach((pts, g) => {
      datasets.push({
        type: "scatter",
        data: pts.map((p) => ({ x: p[0], y: p[1] })),
        backgroundColor: COLORS[g],
        pointBackgroundColor: COLORS[g],
        pointBorderWidth: 0,
        borderWidth: 0,
        pointRadius: 2.9,
        order: 1 + g * 2,
      });
      const seg: any[] = [];
      pts.forEach((p) => {
        seg.push({ x: p[0], y: p[1] - p[2] }, { x: p[0], y: p[1] + p[2] }, { x: p[0], y: null });
        if (row.xErr && p[3] > 0) {
          seg.push({ x: p[0] - p[3], y: p[1] }, { x: p[0] + p[3], y: p[1] }, { x: p[0] + p[3], y: null });
        }
      });
      datasets.push({
        type: "line",
        data: seg,
        borderColor: ERR_COLORS[g],
        borderWidth: 1.7,
        pointRadius: 0,
        spanGaps: false,
        fill: false,
        tension: 0,
        order: 2 + g * 2,
      });
    });

    const tickFont = { family: FONT, size: 16, weight: "bold" as const };
    const chart = new Chart(ref.current, {
      type: "scatter",
      data: { datasets },
      plugins: [borderPlugin],
      options: {
        responsive: false,
        animation: false,
        events: [],
        layout: { padding: { left: padL, right: padR, top: padT, bottom: 0 } },
        plugins: { legend: { display: false }, tooltip: { enabled: false } },
        scales: {
          x: {
            type: "linear",
            min: row.xRange[0],
            max: row.xRange[1],
            afterFit: (s: any) => {
              s.height = row.xAxisH;
            },
            afterBuildTicks: (s: any) => {
              s.ticks = row.ticks.map((v) => ({ value: v }));
            },
            ticks: {
              autoSkip: false,
              maxRotation: row.rot,
              minRotation: row.rot,
              padding: row.tickPad,
              color: "#000",
              font: tickFont,
              callback: (v: any) => {
                const i = row.ticks.indexOf(Number(v));
                return i >= 0 ? row.tickLabels[i] : "";
              },
            },
            grid: { display: true, drawOnChartArea: false, drawTicks: true, tickLength: 3, color: "#333", lineWidth: 1 },
            border: { display: false },
          },
          y: {
            type: "linear",
            display: first,
            min: row.yRange[0],
            max: row.yRange[1],
            afterFit: (s: any) => {
              s.width = yW;
            },
            afterBuildTicks: (s: any) => {
              s.ticks = row.ticks.map((v) => ({ value: v }));
            },
            ticks: {
              autoSkip: false,
              padding: 3,
              color: "#000",
              font: tickFont,
              callback: (v: any) => {
                const i = row.ticks.indexOf(Number(v));
                return i >= 0 ? row.tickLabels[i] : "";
              },
            },
            grid: { display: true, drawOnChartArea: false, drawTicks: true, tickLength: 3, color: "#333", lineWidth: 1 },
            border: { display: false },
          },
        },
      } as any,
    });
    return () => chart.destroy();
  }, []);

  return (
    <canvas
      ref={ref}
      width={width}
      height={height}
      style={{ position: "absolute", left, top, width, height }}
    />
  );
}

function T({ x, y, size, bold, rot, color, children }: any) {
  return (
    <div
      style={{
        position: "absolute",
        left: x,
        top: y,
        transform: `translate(-50%, -50%)${rot ? " rotate(-90deg)" : ""}`,
        fontFamily: FONT,
        fontSize: size,
        fontWeight: bold ? 700 : 400,
        lineHeight: 1,
        whiteSpace: "pre",
        color: color || "#000",
      }}
    >
      {children}
    </div>
  );
}

function renderName(name: string) {
  const parts = name.split("^");
  if (parts.length < 3) return name;
  return (
    <>
      {parts[0]}
      <span style={{ fontSize: "0.65em", position: "relative", top: "-0.5em" }}>{parts[1]}</span>
      {parts[2]}
    </>
  );
}

export default function App() {
  const stripCol = "#1a1a1a";
  return (
    <div style={{ position: "absolute", left: 0, top: 0, width: 1239, height: 738, background: "#fff", overflow: "hidden" }}>
      {ROWS.map((row, r) => PANEL_LEFTS.map((_, c) => <Panel key={`${r}-${c}`} row={row} col={c} />))}

      {PANEL_LEFTS.map((l, c) => (
        <React.Fragment key={`s${c}`}>
          <T x={l + PANEL_W / 2} y={48.5} size={17} color={stripCol}>{renderName(panelNames[c])}</T>
          <T x={l + PANEL_W / 2} y={79} size={17} color={stripCol}>{`Loci : ${panelLoci[c]}`}</T>
          <T x={l + PANEL_W / 2} y={108} size={17} color={stripCol}>{`Alleles : ${panelAlleles[c]}`}</T>
        </React.Fragment>
      ))}

      <T x={21} y={25} size={23} bold>A</T>
      <T x={21} y={325} size={23} bold>B</T>
      <T x={21} y={552.5} size={23} bold>C</T>

      <T x={38.5} y={190} size={21} bold rot>Estimate</T>
      <T x={38.5} y={402} size={21} bold rot>Estimate</T>
      <T x={38.5} y={631} size={21} bold rot>Estimate</T>

      <T x={603.5} y={287} size={21} bold>True Mean MOI</T>
      <T x={603} y={517} size={21} bold>True Mean Relatedness</T>
      <T x={603.5} y={727.5} size={21} bold>True Mean eMOI</T>

      <T x={1183} y={381.5} size={21} bold>Mean MOI</T>
      {GROUP_LABELS.map((lab, g) => {
        const cy = 410 + g * 16.6;
        return (
          <React.Fragment key={`lg${g}`}>
            <div style={{ position: "absolute", left: 1135, top: cy - 0.8, width: 13, height: 1.6, background: ERR_COLORS[g] }} />
            <div style={{ position: "absolute", left: 1141.5 - 2.8, top: cy - 2.8, width: 5.6, height: 5.6, borderRadius: "50%", background: COLORS[g] }} />
            <div style={{ position: "absolute", left: 1160, top: cy, transform: "translateY(-50%)", fontFamily: FONT, fontSize: 17, fontWeight: 700, lineHeight: 1 }}>{lab}</div>
          </React.Fragment>
        );
      })}
    </div>
  );
}
